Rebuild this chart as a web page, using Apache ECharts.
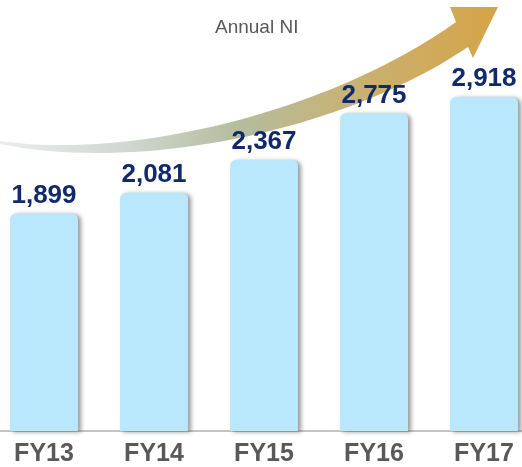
<!DOCTYPE html>
<html>
<head>
<meta charset="utf-8">
<script src="https://cdn.jsdelivr.net/npm/echarts@6/dist/echarts.min.js"></script>
<style>
  html, body { margin: 0; padding: 0; background: #fff; overflow: hidden; }
  /* plot is a bit wider than the window so the outer bars touch the edges */
  #chart { width: 550px; height: 467px; margin-left: -11px; }
</style>
</head>
<body>
<div id="chart"></div>
<script>
const years = ['FY13', 'FY14', 'FY15', 'FY16', 'FY17'];
const netIncome = [1899, 2081, 2367, 2775, 2918];
const arrowLabel = 'Annual NI';

// point on a cubic bezier
function bez(p, t) {
  const u = 1 - t;
  return [
    u*u*u*p[0][0] + 3*u*u*t*p[1][0] + 3*u*t*t*p[2][0] + t*t*t*p[3][0],
    u*u*u*p[0][1] + 3*u*u*t*p[1][1] + 3*u*t*t*p[2][1] + t*t*t*p[3][1]
  ];
}

// the curved growth arrow (decoration only), in window pixels
function arrowShape() {
  const top = [[0, 141], [130, 160], [330, 112], [456, 22]];
  const bottom = [[0, 144], [150, 174], [352, 126], [468, 47]];
  const pts = [];
  for (let i = 0; i <= 40; i++) pts.push(bez(top, i / 40));
  pts.push([450, 7], [498, 7], [473, 58]);
  for (let i = 40; i >= 0; i--) pts.push(bez(bottom, i / 40));
  return pts.map(p => [p[0] + 11, p[1]]);
}

const chart = echarts.init(document.getElementById('chart'));
chart.setOption({
  animation: false,
  grid: { left: 0, right: 0, top: 0, bottom: 28 },
  xAxis: {
    type: 'category',
    data: years,
    axisTick: { show: false },
    axisLine: { lineStyle: { color: '#c4c4c4', width: 2 } },
    axisLabel: {
      margin: 11,
      color: '#595959',
      fontSize: 25,
      fontWeight: 'bold',
      fontFamily: 'Liberation Sans, Arial, sans-serif'
    }
  },
  yAxis: {
    type: 'value',
    min: 0,
    max: 3765,
    show: false,
    splitLine: { show: false }
  },
  graphic: [
    {
      type: 'polygon',
      z: 1,
      shape: { points: arrowShape() },
      style: {
        fill: {
          type: 'linear', x: 0, y: 0, x2: 1, y2: 0,
          colorStops: [
            { offset: 0, color: '#e8eded' },
            { offset: 0.25, color: '#d0d8d1' },
            { offset: 0.48, color: '#b4bd9c' },
            { offset: 0.7, color: '#c8b276' },
            { offset: 1, color: '#d5a446' }
          ]
        }
      }
    },
    {
      type: 'text',
      z: 1,
      left: 226,
      top: 18,
      style: {
        text: arrowLabel,
        fill: '#595959',
        font: '19px "Liberation Sans", Arial, sans-serif'
      }
    }
  ],
  series: [{
    type: 'bar',
    z: 3,
    data: netIncome,
    barWidth: 68,
    itemStyle: {
      color: '#b9e8fc',
      borderRadius: [6, 6, 0, 0],
      shadowColor: 'rgba(0,0,0,0.4)',
      shadowBlur: 4,
      shadowOffsetX: 3,
      shadowOffsetY: 1
    },
    label: {
      show: true,
      position: 'top',
      distance: 5,
      color: '#12296b',
      fontSize: 26,
      fontWeight: 'bold',
      fontFamily: 'Liberation Sans, Arial, sans-serif',
      formatter: p => p.value.toLocaleString('en-US')
    }
  }]
});
</script>
</body>
</html>
